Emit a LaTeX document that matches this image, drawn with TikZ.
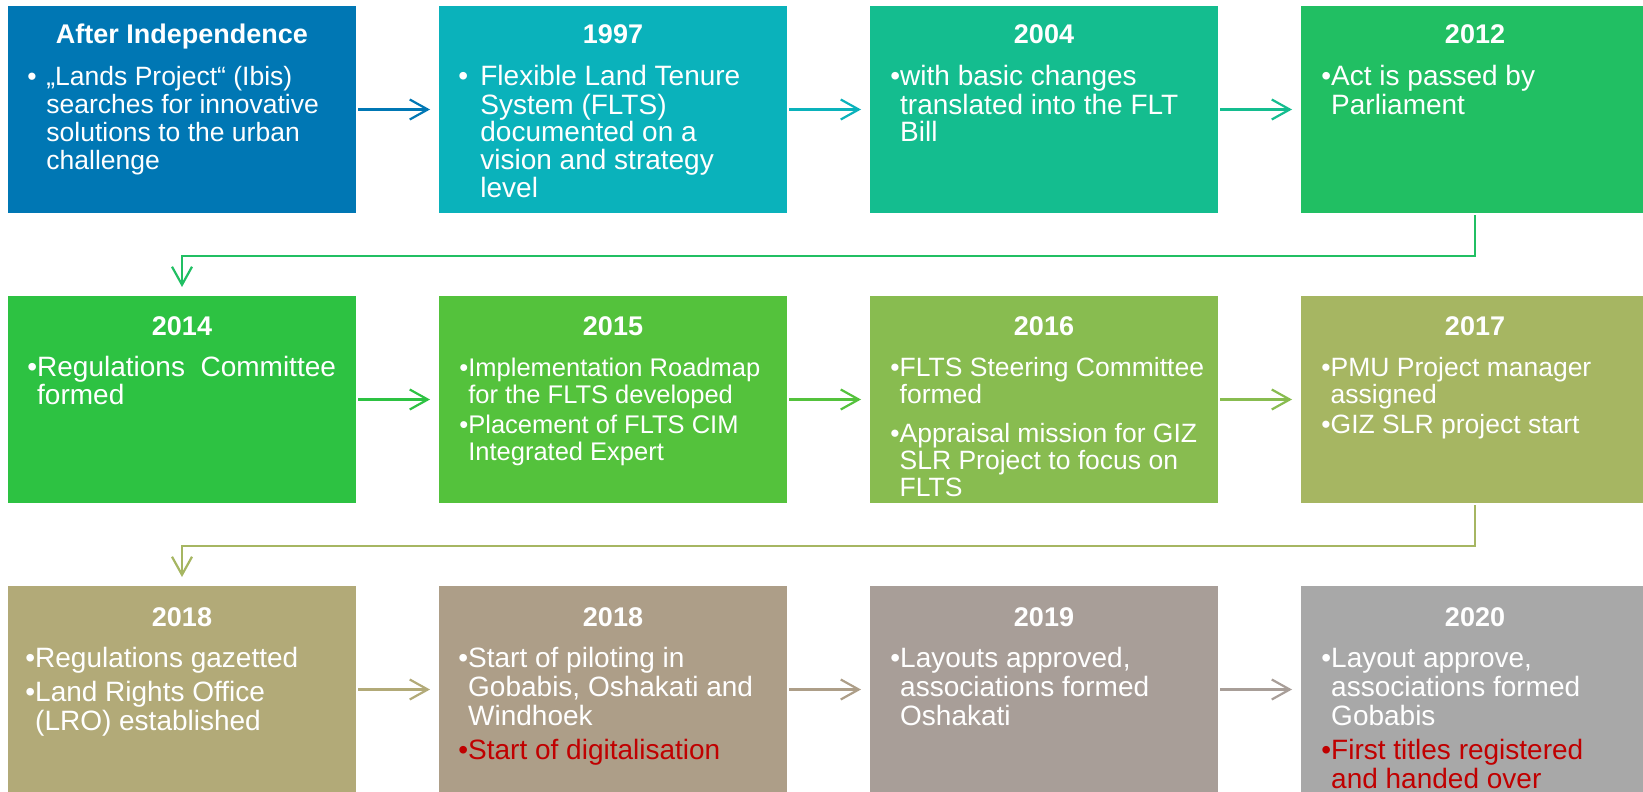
\documentclass[tikz,border=0pt]{standalone}
\usepackage{fontspec}
\setmainfont{Liberation Sans}
\usepackage{xcolor}
\usepackage{tikz}
\usetikzlibrary{arrows.meta, positioning, calc}
\definecolor{oceanblue}{RGB}{0, 119, 180}
\definecolor{tealblue}{RGB}{10, 178, 187}
\definecolor{seagreen}{RGB}{20, 189, 143}
\definecolor{emeraldgreen}{RGB}{33, 191, 99}
\definecolor{brightgreen}{RGB}{45, 194, 66}
\definecolor{limegreen}{RGB}{84, 194, 60}
\definecolor{leafgreen}{RGB}{136, 188, 80}
\definecolor{olivegreen}{RGB}{166, 182, 98}
\definecolor{khaki}{RGB}{178, 170, 120}
\definecolor{taupe}{RGB}{173, 158, 136}
\definecolor{warmgrey}{RGB}{168, 158, 152}
\definecolor{neutralgrey}{RGB}{168, 168, 168}
\definecolor{alertred}{RGB}{192, 0, 0}

\newcommand{\points}[1]{\parbox[t]{200pt}{\raggedright #1}}
\newcommand{\bulletgap}[1]{\makebox[#1][l]{•}}
\newcommand{\bulletpad}{\hphantom{•}}

\tikzset{
  yearbox/.style={rectangle, fill=#1, minimum width=174pt, minimum height=103.5pt, inner sep=0pt, outer sep=0pt},
  yeartitle/.style={anchor=base, text=white, inner sep=0pt, font=\bfseries\fontsize{13.5}{14}\selectfont},
  bodytext/.style 2 args={anchor=base west, text=white, inner sep=0pt, font=\fontsize{#1}{#2}\selectfont},
  flow/.style={draw=#1, line width=1.1pt, shorten <=1pt, shorten >=4.5pt, -{Straight Barb[length=9pt, width=10pt]}}
}

\begin{document}
\begin{tikzpicture}[x=0.5pt, y=-0.5pt]
  \useasboundingbox (0,0) rectangle (1643,792);

  % row 1
  \node[yearbox=oceanblue] (indep) at (182,109.5) {};
  \node[yearbox=tealblue, right=41.5pt of indep] (y1997) {};
  \node[yearbox=seagreen, right=41.5pt of y1997] (y2004) {};
  \node[yearbox=emeraldgreen, right=41.5pt of y2004] (y2012) {};
  % row 2
  \node[yearbox=brightgreen, below=41.5pt of indep] (y2014) {};
  \node[yearbox=limegreen, right=41.5pt of y2014] (y2015) {};
  \node[yearbox=leafgreen, right=41.5pt of y2015] (y2016) {};
  \node[yearbox=olivegreen, right=41.5pt of y2016] (y2017) {};
  % row 3
  \node[yearbox=khaki, below=41.5pt of y2014] (y2018a) {};
  \node[yearbox=taupe, right=41.5pt of y2018a] (y2018b) {};
  \node[yearbox=warmgrey, right=41.5pt of y2018b] (y2019) {};
  \node[yearbox=neutralgrey, right=41.5pt of y2019] (y2020) {};

  % titles
  \node[yeartitle] (indep-title) at ([yshift=-19pt]indep.north) {After Independence};
  \node[yeartitle] (y1997-title) at ([yshift=-19pt]y1997.north) {1997};
  \node[yeartitle] (y2004-title) at ([yshift=-19pt]y2004.north) {2004};
  \node[yeartitle] (y2012-title) at ([yshift=-19pt]y2012.north) {2012};
  \node[yeartitle] (y2014-title) at ([yshift=-19.5pt]y2014.north) {2014};
  \node[yeartitle] (y2015-title) at ([yshift=-19.5pt]y2015.north) {2015};
  \node[yeartitle] (y2016-title) at ([yshift=-19.5pt]y2016.north) {2016};
  \node[yeartitle] (y2017-title) at ([yshift=-19.5pt]y2017.north) {2017};
  \node[yeartitle] (y2018a-title) at ([yshift=-20pt]y2018a.north) {2018};
  \node[yeartitle] (y2018b-title) at ([yshift=-20pt]y2018b.north) {2018};
  \node[yeartitle] (y2019-title) at ([yshift=-20pt]y2019.north) {2019};
  \node[yeartitle] (y2020-title) at ([yshift=-20pt]y2020.north) {2020};

  % bullet texts
  \node[bodytext={13.25}{13.85}] (indep-text) at ([shift={(19,80)}]indep.north west)
    {\points{\bulletgap{9.5pt}„Lands Project“ (Ibis)\\ \hspace*{9.5pt}searches for innovative\\ \hspace*{9.5pt}solutions to the urban\\ \hspace*{9.5pt}challenge}};
  \node[bodytext={14}{14}] (y1997-text) at ([shift={(19,80)}]y1997.north west)
    {\points{\bulletgap{11pt}Flexible Land Tenure\\ \hspace*{11pt}System (FLTS)\\ \hspace*{11pt}documented on a\\ \hspace*{11pt}vision and strategy\\ \hspace*{11pt}level}};
  \node[bodytext={14}{14}] (y2004-text) at ([shift={(20,80)}]y2004.north west)
    {\points{•with basic changes\\ \bulletpad translated into the FLT\\ \bulletpad Bill}};
  \node[bodytext={14}{14}] (y2012-text) at ([shift={(20,80)}]y2012.north west)
    {\points{•Act is passed by\\ \bulletpad Parliament}};

  \node[bodytext={14}{14}] (y2014-text) at ([shift={(19,80)}]y2014.north west)
    {\points{•Regulations~ Committee\\ \bulletpad formed}};
  \node[bodytext={12.75}{13.5}] (y2015-text) at ([shift={(20,80)}]y2015.north west)
    {\points{•Implementation Roadmap\\ \bulletpad for the FLTS developed\\[1.5pt] •Placement of FLTS CIM\\ \bulletpad Integrated Expert}};
  \node[bodytext={13.25}{13.6}] (y2016-text) at ([shift={(20,80)}]y2016.north west)
    {\points{•FLTS Steering Committee\\ \bulletpad formed\\[6pt] •Appraisal mission for GIZ\\ \bulletpad SLR Project to focus on\\ \bulletpad FLTS}};
  \node[bodytext={13.25}{13.6}] (y2017-text) at ([shift={(20,80)}]y2017.north west)
    {\points{•PMU Project manager\\ \bulletpad assigned\\[1.5pt] •GIZ SLR project start}};

  \node[bodytext={14}{14.5}] (y2018a-text) at ([shift={(17,81)}]y2018a.north west)
    {\points{•Regulations gazetted\\[2.5pt] •Land Rights Office\\ \bulletpad (LRO) established}};
  \node[bodytext={14}{14.5}] (y2018b-text) at ([shift={(19,81)}]y2018b.north west)
    {\points{•Start of piloting in\\ \bulletpad Gobabis, Oshakati and\\ \bulletpad Windhoek\\[2.5pt] {\color{alertred}•Start of digitalisation}}};
  \node[bodytext={14}{14.5}] (y2019-text) at ([shift={(20,81)}]y2019.north west)
    {\points{•Layouts approved,\\ \bulletpad associations formed\\ \bulletpad Oshakati}};
  \node[bodytext={14}{14.5}] (y2020-text) at ([shift={(20,81)}]y2020.north west)
    {\points{•Layout approve,\\ \bulletpad associations formed\\ \bulletpad Gobabis\\[2.5pt] {\color{alertred}•First titles registered\\ \bulletpad and handed over}}};

  % connectors
  \draw[flow=oceanblue] (indep) -- (y1997);
  \draw[flow=tealblue] (y1997) -- (y2004);
  \draw[flow=seagreen] (y2004) -- (y2012);
  \draw[flow=emeraldgreen] (y2012.south) -- ++(0,-21.5pt) -| (y2014.north);
  \draw[flow=brightgreen] (y2014) -- (y2015);
  \draw[flow=limegreen] (y2015) -- (y2016);
  \draw[flow=leafgreen] (y2016) -- (y2017);
  \draw[flow=olivegreen] (y2017.south) -- ++(0,-21.5pt) -| (y2018a.north);
  \draw[flow=khaki] (y2018a) -- (y2018b);
  \draw[flow=taupe] (y2018b) -- (y2019);
  \draw[flow=warmgrey] (y2019) -- (y2020);
\end{tikzpicture}
\end{document}
